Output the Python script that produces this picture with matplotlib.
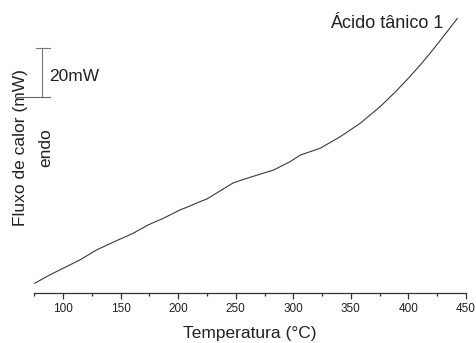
import matplotlib
matplotlib.use('Agg')
import matplotlib.pyplot as plt

plt.rcParams['font.family'] = ['Liberation Sans', 'DejaVu Sans']

# DSC trace (temperature in °C, heat flow in mW, arbitrary offset)
temperature = [75.4, 88.4, 100, 114.5, 129.1, 146.5, 160.9, 173.9, 187, 201.5, 207.4,
               218.9, 225, 230.5, 247.9, 259.5, 282.7, 297.2, 305.9, 323.3, 340.7,
               358.1, 375.5, 388.6, 399, 410.3, 421.6, 433.8, 442.5]
heat_flow = [4.1, 7.5, 10.2, 13.6, 17.7, 21.5, 24.5, 27.9, 30.6, 34.0, 35.1,
             37.4, 38.5, 40.1, 45.1, 46.9, 50.3, 53.7, 56.4, 59.2, 63.9,
             69.4, 76.2, 82.2, 87.3, 93.2, 99.6, 106.9, 112.2]

x_ticks = [100, 150, 200, 250, 300, 350, 400, 450]
x_minor = [75, 125, 175, 225, 275, 325, 375, 425]
scale_bar = (80, 100)  # 20 mW
sample_name = 'Ácido tânico 1'

W, H, DPI = 476, 343, 100
fig = plt.figure(figsize=(W / DPI, H / DPI), dpi=DPI)
ax = fig.add_axes([34.3 / W, (H - 293.3) / H, (466 - 34.3) / W, (293.3 - 5) / H])

ax.plot(temperature, heat_flow, '-', color='#3a3a3a', lw=0.8)

ax.set_xlim(75, 450)
ax.set_ylim(0, (293.3 - 5) / 2.45)

for side in ('left', 'right', 'top'):
    ax.spines[side].set_visible(False)
ax.spines['bottom'].set_color('#333333')
ax.spines['bottom'].set_linewidth(0.9)

ax.set_xticks(x_ticks)
ax.set_xticks(x_minor, minor=True)
ax.tick_params(axis='x', which='major', direction='out', length=4, width=0.9,
               color='#333333', labelsize=8.5, labelcolor='#222222', pad=3)
ax.tick_params(axis='x', which='minor', direction='out', length=2, width=0.9, color='#333333')
ax.set_yticks([])

# 20 mW scale bar (bottom cap runs across the y label, as in the original)
bar_x = 82.1
ax.plot([bar_x, bar_x], scale_bar, color='#777777', lw=0.8, clip_on=False)
ax.plot([76.9, 88.4], [scale_bar[1]] * 2, color='#777777', lw=0.8, clip_on=False)
ax.plot([59.7, 88.4], [scale_bar[0]] * 2, color='#666666', lw=0.8, clip_on=False)
ax.text(87.6, 88.4, '20mW', fontsize=12.5, ha='left', va='center', color='#222222')

fig.text(20.5 / W, (H - 147.5) / H, 'Fluxo de calor (mW)', rotation=90, fontsize=12.5,
         ha='center', va='center', color='#222222')
fig.text(45.5 / W, (H - 147.5) / H, 'endo', rotation=90, fontsize=12.5,
         ha='center', va='center', color='#222222')
fig.text(250 / W, (H - 337.7) / H, 'Temperatura (°C)', fontsize=12.5,
         ha='center', va='baseline', color='#222222')
fig.text(443 / W, (H - 28) / H, sample_name, fontsize=13,
         ha='right', va='baseline', color='#222222')

fig.savefig('out.png', dpi=DPI)
